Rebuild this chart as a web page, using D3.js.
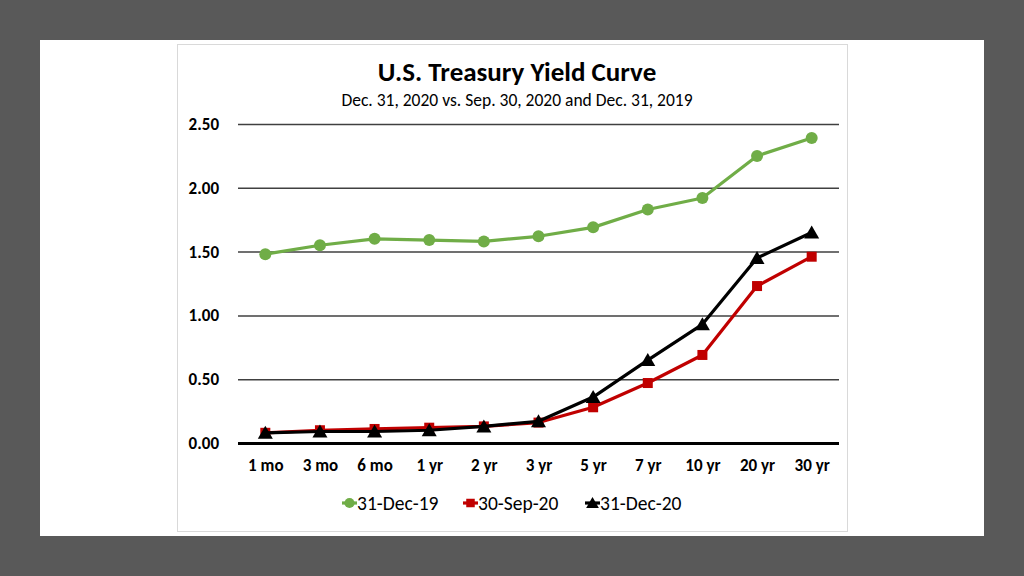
<!DOCTYPE html>
<html><head><meta charset="utf-8">
<script src="https://cdn.jsdelivr.net/npm/d3@7"></script>
<style>body{margin:0;background:#595959;}svg{display:block;}</style>
</head><body>
<svg id="c" width="1024" height="576"></svg>
<script>
const categories = ["1 mo","3 mo","6 mo","1 yr","2 yr","3 yr","5 yr","7 yr","10 yr","20 yr","30 yr"];
const dec19 = [1.48,1.55,1.60,1.59,1.58,1.62,1.69,1.83,1.92,2.25,2.39];
const sep20 = [0.08,0.10,0.11,0.12,0.13,0.16,0.28,0.47,0.69,1.23,1.46];
const dec20 = [0.08,0.09,0.09,0.10,0.13,0.17,0.36,0.65,0.93,1.45,1.65];
const seriesNames = ["31-Dec-19","30-Sep-20","31-Dec-20"];
const yTicks = [0,0.5,1,1.5,2,2.5];

const series = [
  {name: seriesNames[0], values: dec19, color: "#70ad47", marker: "circle"},
  {name: seriesNames[1], values: sep20, color: "#c00000", marker: "square"},
  {name: seriesNames[2], values: dec20, color: "#000000", marker: "triangle"}
];

const svg = d3.select("#c");
const font = "Carlito, Calibri, Lato, 'Open Sans', sans-serif";
svg.append("rect").attr("x",40).attr("y",40).attr("width",944).attr("height",496).attr("fill","#fff");
svg.append("rect").attr("x",177.5).attr("y",44.5).attr("width",670).attr("height",487).attr("fill","#fff").attr("stroke","#d9d9d9");

const x = d3.scalePoint().domain(categories).range([238,839]).padding(0.5);
const y = d3.scaleLinear().domain([0,2.5]).range([443,124]);

svg.append("text").attr("x",517).attr("y",81).attr("text-anchor","middle")
  .attr("font-family",font).attr("font-weight","bold").attr("font-size",27).attr("fill","#000")
  .text("U.S. Treasury Yield Curve");
svg.append("text").attr("x",517).attr("y",106).attr("text-anchor","middle")
  .attr("font-family",font).attr("font-size",17.5).attr("fill","#000")
  .text("Dec. 31, 2020 vs. Sep. 30, 2020 and Dec. 31, 2019");

// gridlines
const gy = svg.append("g").attr("transform","translate(238,0)")
  .call(d3.axisLeft(y).tickValues(yTicks).tickSize(-601).tickFormat(d3.format(".2f")).tickPadding(19));
gy.select(".domain").remove();
gy.selectAll(".tick line").attr("stroke","#404040").attr("stroke-width",1.5);
gy.selectAll(".tick line").filter(d=>d===0).attr("stroke","#000").attr("stroke-width",3);
gy.selectAll(".tick text").attr("font-family",font).attr("font-weight","bold").attr("font-size",17).attr("fill","#000");

const gx = svg.append("g").attr("transform","translate(0,443)")
  .call(d3.axisBottom(x).tickSize(0).tickPadding(16));
gx.select(".domain").remove();
gx.selectAll(".tick text").attr("font-family",font).attr("font-weight","bold").attr("font-size",17).attr("fill","#000");

const line = d3.line().x((d,i)=>x(categories[i])).y(d=>y(d));
function drawMarker(g, type, color, cx, cy, scale){
  scale = scale||1;
  if(type==="circle") g.append("circle").attr("cx",cx).attr("cy",cy).attr("r",6*scale).attr("fill",color);
  else if(type==="square") g.append("rect").attr("x",cx-5*scale).attr("y",cy-5*scale).attr("width",10*scale).attr("height",10*scale).attr("fill",color);
  else g.append("path").attr("d",`M${cx},${cy-7*scale}L${cx+7.5*scale},${cy+6*scale}L${cx-7.5*scale},${cy+6*scale}Z`).attr("fill",color);
}
series.forEach(s=>{
  const g = svg.append("g");
  g.append("path").datum(s.values).attr("d",line).attr("fill","none").attr("stroke",s.color).attr("stroke-width",3.2).attr("stroke-linejoin","round");
  s.values.forEach((v,i)=>drawMarker(g,s.marker,s.color,x(categories[i]),y(v)));
});

// legend
const legX = [342,463,585];
series.forEach((s,i)=>{
  const g = svg.append("g");
  g.append("line").attr("x1",legX[i]).attr("x2",legX[i]+15).attr("y1",503).attr("y2",503).attr("stroke",s.color).attr("stroke-width",3.2);
  drawMarker(g,s.marker,s.color,legX[i]+7.5,503,0.85);
  g.append("text").attr("x",legX[i]+15).attr("y",509.5).attr("font-family",font).attr("font-size",19.5).attr("fill","#000").text(s.name);
});
</script>
</body></html>
